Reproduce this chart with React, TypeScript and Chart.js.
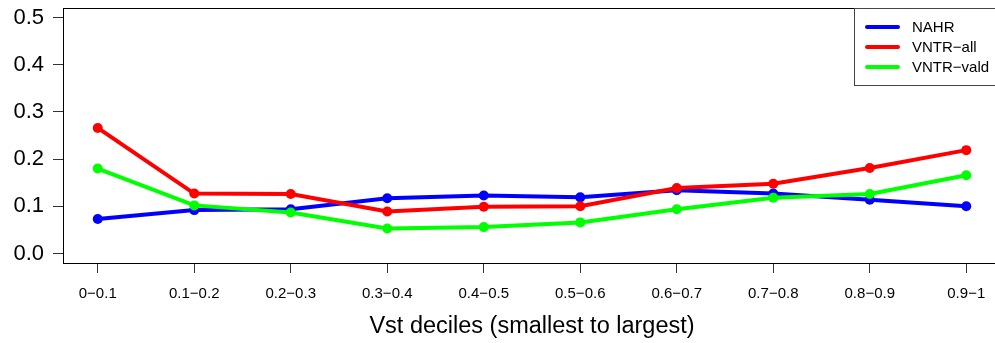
import React, { useEffect, useRef } from "react";
import { Chart, registerables } from "chart.js";

Chart.register(...registerables);

const categories = ["0−0.1", "0.1−0.2", "0.2−0.3", "0.3−0.4", "0.4−0.5", "0.5−0.6", "0.6−0.7", "0.7−0.8", "0.8−0.9", "0.9−1"];
const nahr = [0.073, 0.092, 0.094, 0.117, 0.123, 0.119, 0.134, 0.127, 0.114, 0.1];
const vntrAll = [0.266, 0.127, 0.126, 0.089, 0.099, 0.1, 0.139, 0.148, 0.181, 0.219];
const vntrVald = [0.18, 0.102, 0.087, 0.053, 0.056, 0.066, 0.094, 0.118, 0.126, 0.166];
const yTicks = [0, 0.1, 0.2, 0.3, 0.4, 0.5];
const seriesNames = ["NAHR", "VNTR−all", "VNTR−vald"];
const seriesColors = ["#0000FF", "#FF0000", "#00FF00"];
const xTitle = "Vst deciles (smallest to largest)";

const FONT = "'Liberation Sans', Arial, Helvetica, sans-serif";

export default function App() {
  const ref = useRef<HTMLCanvasElement | null>(null);
  useEffect(() => {
    const canvas = ref.current!;
    const toPts = (arr: number[]) => arr.map((v, i) => ({ x: i + 1, y: v }));
    const allSeries = [nahr, vntrAll, vntrVald];
    const overlay = {
      id: "overlay",
      afterDraw(chart: any) {
        const ctx = chart.ctx;
        const a = chart.chartArea;
        ctx.save();
        ctx.strokeStyle = "#000";
        ctx.lineWidth = 1;
        ctx.strokeRect(a.left + 0.5, a.top + 0.5, a.right - a.left, a.bottom - a.top);
        // x title
        ctx.fillStyle = "#000";
        ctx.font = `23.5px ${FONT}`;
        ctx.textAlign = "center";
        ctx.textBaseline = "middle";
        ctx.fillText(xTitle, (a.left + a.right) / 2, 327);
        // legend
        const lx = 854, ly = a.top, lw = a.right - lx, lh = 77;
        ctx.fillStyle = "#fff";
        ctx.fillRect(lx, ly, lw, lh);
        ctx.strokeStyle = "#444";
        ctx.strokeRect(lx + 0.5, ly + 0.5, lw, lh);
        ctx.font = `15px ${FONT}`;
        ctx.textAlign = "left";
        seriesNames.forEach((n, i) => {
          const yy = 27 + i * 20;
          ctx.strokeStyle = seriesColors[i];
          ctx.lineWidth = 4;
          ctx.lineCap = "round";
          ctx.beginPath();
          ctx.moveTo(867, yy);
          ctx.lineTo(898, yy);
          ctx.stroke();
          ctx.fillStyle = "#000";
          ctx.fillText(n, 912, yy + 1);
        });
        ctx.restore();
      },
    };
    const chart = new Chart(canvas, {
      type: "line",
      data: {
        datasets: allSeries.map((s, i) => ({
          label: seriesNames[i],
          data: toPts(s),
          borderColor: seriesColors[i],
          backgroundColor: seriesColors[i],
          borderWidth: 4,
          pointRadius: 5,
          pointBorderWidth: 0,
          pointBackgroundColor: seriesColors[i],
          order: 2 - i,
          fill: false,
          tension: 0,
        })),
      },
      options: {
        animation: false,
        responsive: false,
        devicePixelRatio: 1,
        layout: { padding: { left: 0, top: 8, right: 9, bottom: 0 } },
        plugins: { legend: { display: false }, tooltip: { enabled: false } },
        scales: {
          x: {
            type: "linear",
            min: 0.64,
            max: 10.36,
            afterFit: (s: any) => { s.height = 80; s.paddingLeft = 0; s.paddingRight = 0; },
            afterBuildTicks: (s: any) => { s.ticks = categories.map((_, i) => ({ value: i + 1 })); },
            ticks: {
              callback: (v: any) => categories[Math.round(v) - 1] ?? "",
              color: "#000",
              font: { family: FONT, size: 15 },
              padding: 12,
              maxRotation: 0,
              autoSkip: false,
            },
            grid: { drawOnChartArea: false, drawTicks: true, tickLength: 10, color: "#333" },
            border: { display: false },
          },
          y: {
            type: "linear",
            min: -0.02,
            max: 0.52,
            afterFit: (s: any) => { s.width = 63; s.paddingTop = 0; s.paddingBottom = 0; },
            afterBuildTicks: (s: any) => { s.ticks = yTicks.map((v) => ({ value: v })); },
            ticks: {
              callback: (v: any) => Number(v).toFixed(1),
              color: "#000",
              font: { family: FONT, size: 22 },
              padding: 9,
            },
            grid: { drawOnChartArea: false, drawTicks: true, tickLength: 10, color: "#333" },
            border: { display: false },
          },
        },
      },
      plugins: [overlay],
    } as any);
    return () => chart.destroy();
  }, []);
  return (
    <div style={{ position: "fixed", left: 0, top: 0, width: 995, height: 343, overflow: "hidden", background: "#fff" }}>
      <canvas ref={ref} width={1010} height={343} style={{ width: 1010, height: 343, display: "block" }} />
    </div>
  );
}
